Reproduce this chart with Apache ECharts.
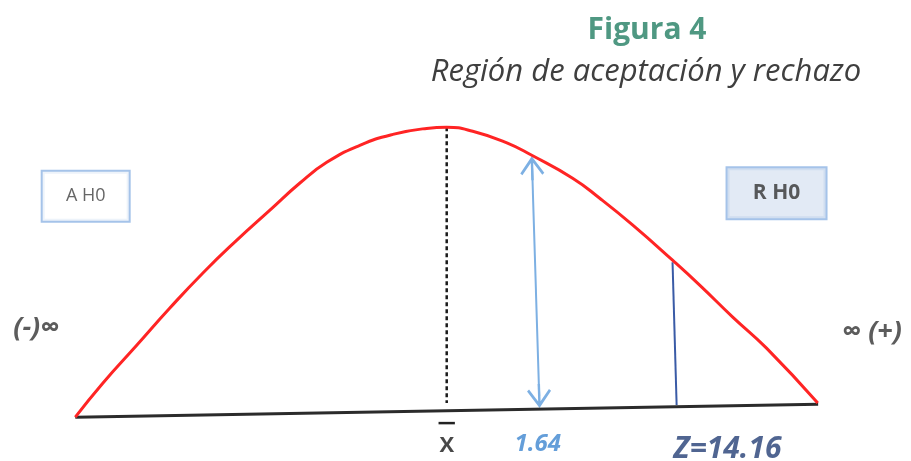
<!DOCTYPE html>
<html><head><meta charset="utf-8">
<script src="https://cdn.jsdelivr.net/npm/echarts@6/dist/echarts.min.js"></script>
<style>html,body{margin:0;padding:0;background:#fff}#c{width:911px;height:461px}</style>
</head><body><div id="c"></div>
<script>
// Curve (abstract units: peak at x=0, height 10)
const curveX = [-10.0, -9.26, -8.34, -7.46, -6.57, -5.65, -4.76, -3.96, -3.23, -2.34, -1.45, -0.54, 0, 0.70, 1.62, 2.29, 3.39, 4.12, 5.01, 6.08, 6.81, 7.70, 8.61, 9.99];
const curveY = [-0.25, 0.95, 2.30, 3.60, 4.84, 6.01, 7.07, 8.02, 8.76, 9.36, 9.75, 9.96, 10.0, 9.86, 9.45, 9.01, 8.20, 7.49, 6.54, 5.30, 4.42, 3.29, 2.19, 0.25];
const baseline = [[-10.0, -0.25], [10.0, 0.21]];
const meanLine = [[0, 10.0], [0, 0.25]];
const arrowLine = [[2.30, 8.55], [2.49, 0.50]];
const zLine = [[6.08, 5.23], [6.19, 0.18]];
const xBar = [[-0.22, -0.46], [0.22, -0.46]];
// Text labels
const titleText = 'Figura 4';
const subtitleText = 'Región de aceptación y rechazo';
const acceptLabel = {name: 'A H0', pos: [-9.72, 7.56]};
const rejectLabel = {name: 'R H0', pos: [8.88, 7.67]};
const leftInf = {name: '(-)∞', pos: [-11.05, 2.90]};
const rightInf = {name: '∞ (+)', pos: [11.45, 2.76]};
const meanTick = {name: 'X', pos: [0, -1.27]};
const critTick = {name: '1.64', pos: [2.45, -1.20]};
const zTick = {name: 'Z=14.16', pos: [7.56, -1.38]};

const chart = echarts.init(document.getElementById('c'));
const arrowPath = 'path://M10,0 L20,14 L18.3,15.6 L11,5.5 L11,20 L9,20 L9,5.5 L1.7,15.6 L0,14 Z';
const FF = '"Open Sans", "DejaVu Sans", sans-serif';
function lbl(p, style) {
  return {value: p.pos, name: p.name, label: Object.assign({show: true, position: 'inside', formatter: p.name}, style)};
}
chart.setOption({
  animation: false,
  grid: {left: 1, right: 0, top: 0, bottom: 0},
  xAxis: {type: 'value', min: -12, max: 12.5, show: false},
  yAxis: {type: 'value', min: -1.8, max: 14.5, show: false},
  graphic: [
    {type: 'text', style: {text: titleText, x: 647, y: 30, align: 'center', verticalAlign: 'middle', fontSize: 30, fontWeight: 'bold', fontFamily: FF, fill: '#4F9882'}},
    {type: 'text', style: {text: subtitleText, x: 646, y: 72, align: 'center', verticalAlign: 'middle', fontSize: 31, fontStyle: 'italic', fontFamily: FF, fill: '#3F3F3F'}}
  ],
  series: [
    {type: 'line', data: baseline, showSymbol: false, lineStyle: {color: '#2b2b2b', width: 3}, z: 2},
    {type: 'line', data: curveX.map((x, i) => [x, curveY[i]]), smooth: 0.5, showSymbol: false, lineStyle: {color: '#FF2424', width: 3}, z: 3},
    {type: 'line', data: meanLine, showSymbol: false, lineStyle: {color: '#1a1a1a', width: 2.5, type: [4, 3]}, z: 2},
    {type: 'line', data: zLine, showSymbol: false, lineStyle: {color: '#3A5BA6', width: 2}, z: 2},
    {type: 'line', data: xBar, showSymbol: false, lineStyle: {color: '#222', width: 2.5}, z: 2},
    {type: 'lines', coordinateSystem: 'cartesian2d', symbol: [arrowPath, arrowPath], symbolSize: 24,
      lineStyle: {color: '#7DB0E3', width: 2, opacity: 1}, data: [{coords: arrowLine}], z: 2},
    {type: 'scatter', symbolSize: 0, z: 5, data: [
      lbl(acceptLabel, {width: 86, height: 49, lineHeight: 49, align: 'center', verticalAlign: 'middle', padding: 0,
        backgroundColor: '#fff', borderColor: '#8EB4E3', borderWidth: 2, fontSize: 18, fontFamily: FF, color: '#404040'}),
      lbl(rejectLabel, {width: 98, height: 50, lineHeight: 50, align: 'center', verticalAlign: 'middle', padding: 0,
        backgroundColor: '#DBE5F3', borderColor: '#8EB4E3', borderWidth: 2, fontSize: 21, fontWeight: 'bold', fontFamily: FF, color: '#333'}),
      lbl(leftInf, {fontSize: 27, fontStyle: 'italic', fontWeight: 'bold', fontFamily: FF, color: '#333'}),
      lbl(rightInf, {fontSize: 27, fontStyle: 'italic', fontWeight: 'bold', fontFamily: FF, color: '#333'}),
      lbl(meanTick, {fontSize: 22, fontWeight: 'bold', fontFamily: FF, color: '#1a1a1a'}),
      lbl(critTick, {fontSize: 24, fontStyle: 'italic', fontWeight: 'bold', fontFamily: FF, color: '#3D86CF'}),
      lbl(zTick, {fontSize: 30, fontStyle: 'italic', fontWeight: 'bold', fontFamily: FF, color: '#243F75'})
    ]}
  ]
});
</script>
</body></html>
